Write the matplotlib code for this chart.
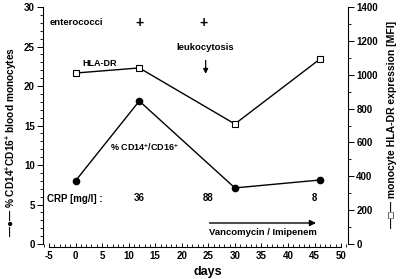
import matplotlib
matplotlib.use("Agg")
import matplotlib.pyplot as plt
from matplotlib.ticker import MultipleLocator

plt.rcParams['font.family'] = ['Liberation Sans', 'DejaVu Sans']
plt.rcParams['font.weight'] = 'bold'
plt.rcParams['mathtext.fontset'] = 'custom'
plt.rcParams['mathtext.rm'] = 'Liberation Sans:bold'
plt.rcParams['mathtext.default'] = 'rm'

# podatki odcitani s slike
dnevi = [0, 12, 30, 46]
cd14_cd16 = [8.0, 18.1, 7.1, 8.1]
hla_dr = [1010, 1040, 709, 1092]
crp_dnevi = [12, 25, 45]
crp_vrednosti = ['36', '88', '8']
plus_dnevi = [12, 24]

fig = plt.figure(figsize=(4, 2.79), dpi=100)
ax = fig.add_axes([0.1075, 0.1254, 0.7625, 0.8495])
ax2 = ax.twinx()

ax.plot(dnevi, cd14_cd16, color='black', lw=1, marker='o', ms=4.5, zorder=3)
ax2.plot(dnevi, hla_dr, color='black', lw=1, marker='s', ms=4,
         markerfacecolor='white', markeredgewidth=0.8, zorder=3)

ax.set_xlim(-6.13, 51.3)
ax.set_ylim(0, 30)
ax2.set_ylim(0, 1400)

ax.spines['top'].set_visible(False)
ax2.spines['top'].set_visible(False)
ax.spines['right'].set_visible(False)
ax2.spines['left'].set_visible(False)
ax2.spines['bottom'].set_visible(False)
ax.spines['bottom'].set_bounds(-5, 50)
ax.spines['bottom'].set_position(('outward', 2.2))
for s in ['left', 'bottom']:
    ax.spines[s].set_linewidth(0.8)
ax2.spines['right'].set_linewidth(0.8)

ax.xaxis.set_major_locator(MultipleLocator(5))
ax.xaxis.set_minor_locator(MultipleLocator(1))
ax.yaxis.set_major_locator(MultipleLocator(5))
ax.yaxis.set_minor_locator(MultipleLocator(1))
ax2.yaxis.set_major_locator(MultipleLocator(200))
ax2.yaxis.set_minor_locator(MultipleLocator(100))

ax.tick_params(axis='x', which='major', direction='in', length=3, width=0.7, labelsize=7, pad=3)
ax.tick_params(axis='x', which='minor', direction='in', length=2, width=0.6)
ax.tick_params(axis='y', which='major', direction='out', length=4, width=0.7, labelsize=7, pad=2)
ax.tick_params(axis='y', which='minor', direction='out', length=2, width=0.6)
ax2.tick_params(axis='y', which='major', direction='out', length=4, width=0.7, labelsize=7, pad=2)
ax2.tick_params(axis='y', which='minor', direction='out', length=2, width=0.6)
ax.set_xticks(range(-5, 51, 5))
ax.set_xticklabels([str(v) for v in range(-5, 51, 5)])

# napisi
ax.text(-4.9, 28.0, 'enterococci', fontsize=6.8, ha='left', va='center')
for d in plus_dnevi:
    ax.text(d, 28.0, '+', fontsize=10, ha='center', va='center')
ax.text(24.5, 24.9, 'leukocytosis', fontsize=6.8, ha='center', va='center')
ax.annotate('', xy=(24.5, 21.2), xytext=(24.5, 23.6),
            arrowprops=dict(arrowstyle='-|>', color='black', lw=0.9, mutation_scale=7))
ax.text(4.5, 22.9, 'HLA-DR', fontsize=6.5, ha='center', va='center')
ax.text(13, 12.2, r'% CD14$^{+}$/CD16$^{+}$', fontsize=6.5, ha='center', va='center')
ax.text(-5.3, 5.7, 'CRP [mg/l] :', fontsize=7, ha='left', va='center')
for d, v in zip(crp_dnevi, crp_vrednosti):
    ax.text(d, 5.8, v, fontsize=7, ha='center', va='center')
ax.annotate('', xy=(45.8, 2.66), xytext=(24.7, 2.66),
            arrowprops=dict(arrowstyle='-|>', color='black', lw=1, mutation_scale=9))
ax.text(35.2, 1.4, 'Vancomycin / Imipenem', fontsize=6.8, ha='center', va='center')

fig.text(0.52, 0.025, 'days', fontsize=9, ha='center', va='center')
fig.text(0.029, 0.49, u'\u2014\u25cf\u2014 % CD14$^{+}$CD16$^{+}$ blood monocytes',
         fontsize=7.3, rotation=90, ha='center', va='center')
fig.text(0.979, 0.553, u'\u2014\u25a1\u2014 monocyte HLA-DR expression [MFI]',
         fontsize=7.5, rotation=90, ha='center', va='center')

fig.savefig('out.png', dpi=100)
